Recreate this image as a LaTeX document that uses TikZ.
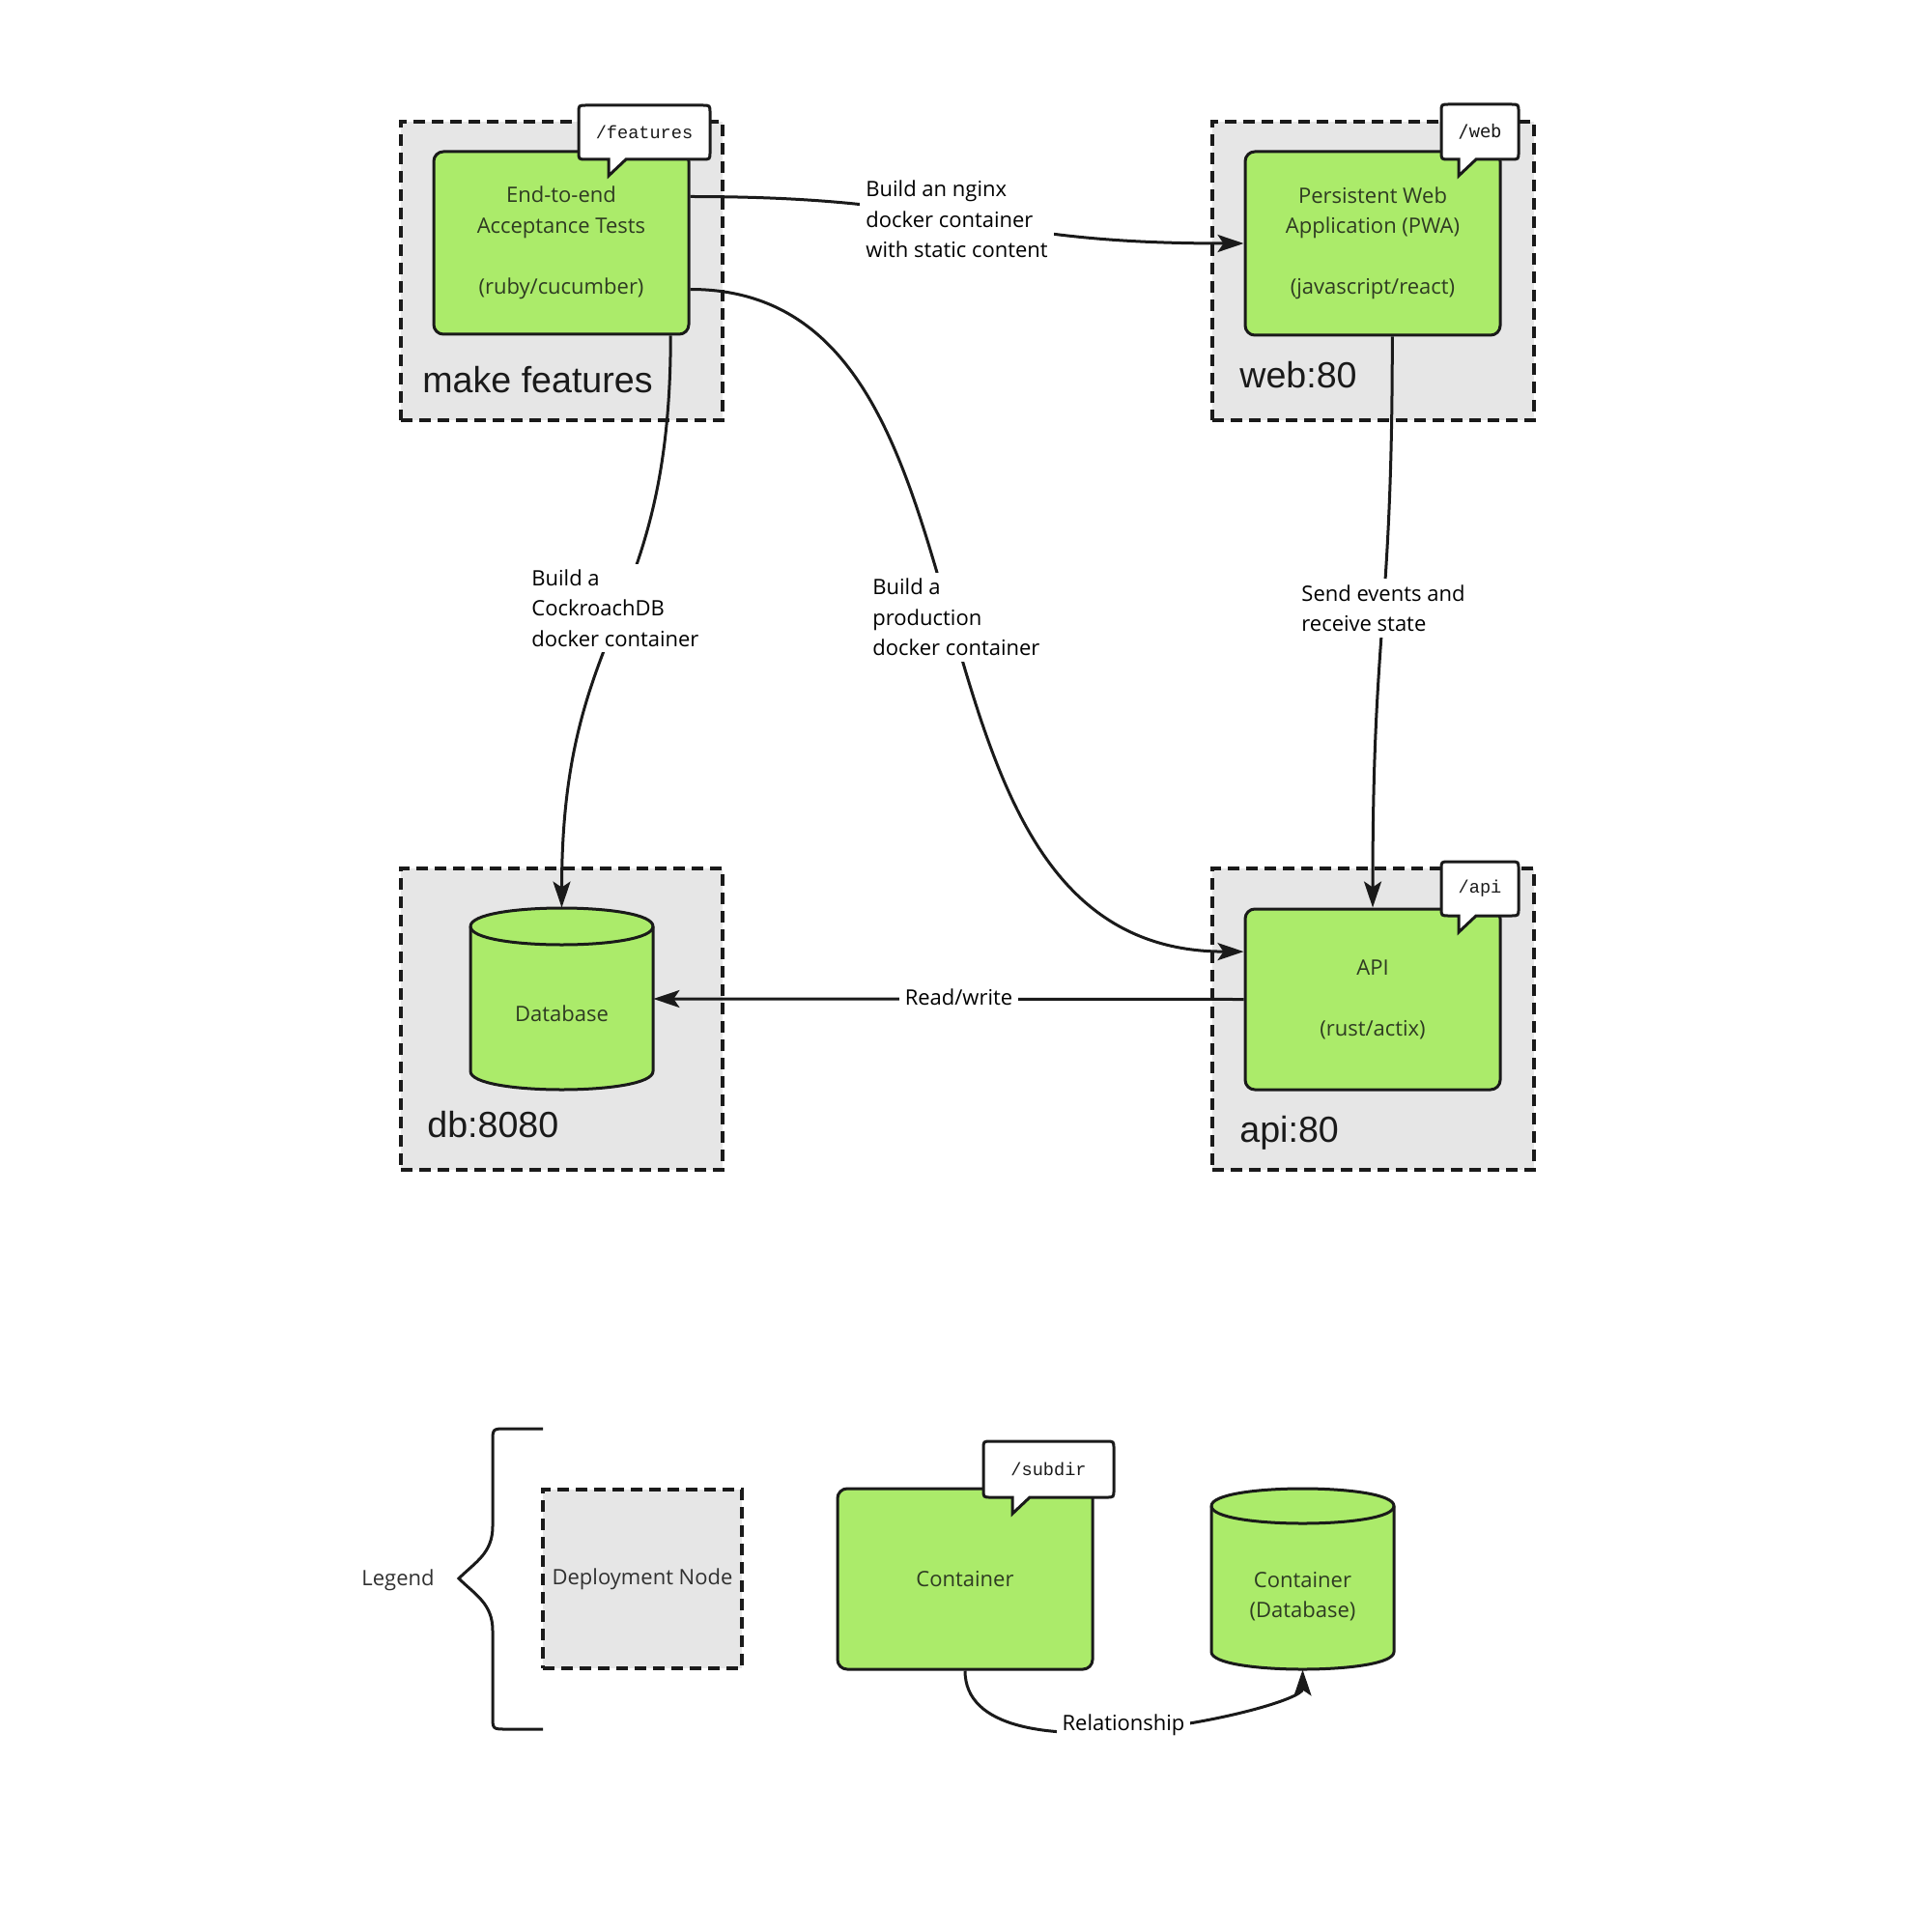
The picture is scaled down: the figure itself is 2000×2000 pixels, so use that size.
\documentclass[tikz,border=0pt]{standalone}
\usepackage{fontspec}
\setmainfont{Open Sans}
\newfontfamily\hostfamily{Liberation Sans}
\newfontfamily\pathfont{Liberation Mono}
\newfontfamily\pathfontsans{DejaVu Sans Mono}
\usetikzlibrary{arrows.meta,calc}

\definecolor{nodegray}{HTML}{E6E6E6}
\definecolor{boxgreen}{HTML}{ABEB6A}
\definecolor{boxtext}{HTML}{2E3B22}
\definecolor{ink}{HTML}{1A1A1A}
\definecolor{softink}{HTML}{303030}

\newcommand\mainsize{\fontsize{11pt}{15.75pt}\selectfont}
\newcommand\hostsize{\hostfamily\fontsize{18.8pt}{22pt}\selectfont}
\newcommand\tagsize{\fontsize{9.3pt}{11pt}\selectfont}

\tikzset{
  deploy/.style={draw=ink, fill=nodegray, dash pattern=on 6pt off 3.5pt,
    line width=1.6pt, inner sep=0pt},
  container/.style={draw=ink, fill=boxgreen, line width=1.5pt, rounded corners=5pt,
    text=boxtext, align=center, font=\mainsize, inner sep=0pt},
  boxlabel/.style={text=boxtext, align=center, font=\mainsize, inner sep=0pt},
  bubble/.style={draw=ink, fill=white, line width=1.5pt},
  tagtext/.style={font=\tagsize, text=ink, inner sep=0pt},
  cyl/.style={draw=ink, fill=boxgreen, line width=1.5pt},
  rel/.style={draw=ink, line width=1.5pt, -{Stealth[length=13.5pt,width=9pt,inset=3pt]}},
  rellabel/.style={fill=white, inner sep=3pt, align=left, font=\mainsize, text=black},
  hostlabel/.style={font=\hostsize, text=ink, inner sep=0pt, anchor=base west},
}

% speech bubble with a tail at the lower left: name, x1, y1, x2, y2, tail x, text
\newcommand\tagbubble[7]{%
  \draw[bubble] ({#2+8},#3) -- ({#4-8},#3) .. controls (#4,#3) .. (#4,{#3+8})
    -- (#4,{#5-8}) .. controls (#4,#5) .. ({#4-8},#5)
    -- ({#6+18},#5) -- (#6,{#5+17}) -- (#6,#5)
    -- ({#2+8},#5) .. controls (#2,#5) .. (#2,{#5-8})
    -- (#2,{#3+8}) .. controls (#2,#3) .. ({#2+8},#3) -- cycle;
  \node[tagtext] (#1) at ({(#2+#4)/2},{(#3+#5)/2}) {#7};}

% database cylinder: x1, x2, top, bottom, half height of the end ellipses
\newcommand\dbshape[5]{%
  \pgfmathsetmacro\cylTop{#3+#5}%
  \pgfmathsetmacro\cylBot{#4-#5}%
  \pgfmathsetmacro\cylK{1.3333*#5}%
  \filldraw[cyl] (#1,\cylTop) -- (#1,\cylBot)
    .. controls (#1,\cylBot+\cylK) and (#2,\cylBot+\cylK) .. (#2,\cylBot)
    -- (#2,\cylTop)
    .. controls (#2,\cylTop-\cylK) and (#1,\cylTop-\cylK) .. (#1,\cylTop) -- cycle;
  \draw[cyl, fill=none] (#1,\cylTop)
    .. controls (#1,\cylTop+\cylK) and (#2,\cylTop+\cylK) .. (#2,\cylTop);}

\begin{document}
\begin{tikzpicture}[x=0.5pt,y=-0.5pt]
\path[use as bounding box] (0,0) rectangle (2000,2000);

% deployment nodes
\node[deploy, minimum width=166.5pt, minimum height=154.5pt] (featHost) at (581.5,280.5) {};
\node[deploy, minimum width=166.5pt, minimum height=154.5pt] (webHost) at (1421.5,280.5) {};
\node[deploy, minimum width=166.5pt, minimum height=156pt] (dbHost) at (581.5,1055) {};
\node[deploy, minimum width=166.5pt, minimum height=156pt] (apiHost) at (1421.5,1055) {};

\node[hostlabel] (featName) at (437,407) {make features};
\node[hostlabel] (webName) at (1283,402) {web:80};
\node[hostlabel] (dbName) at (442,1177) {db:8080};
\node[hostlabel] (apiName) at (1283,1182) {api:80};

% containers
\node[container, minimum width=132pt, minimum height=94.5pt] (feat) at (581,251.5)
  {End-to-end\\Acceptance Tests\\[15.75pt](ruby/cucumber)};
\node[container, minimum width=132pt, minimum height=95pt] (web) at (1421,252)
  {Persistent Web\\Application (PWA)\\[15.75pt](javascript/react)};
\node[container, minimum width=132pt, minimum height=93.5pt] (api) at (1421,1034.5)
  {API\\[15.75pt](rust/actix)};

\dbshape{487}{676}{940}{1128}{19}
\node[inner sep=0pt, minimum width=94.5pt, minimum height=94pt] (db) at (581.5,1034) {};
\node[boxlabel] (dbText) at (581.5,1049) {Database};

\tagbubble{featTag}{599}{109}{735}{165}{630}{\pathfont /features}
\tagbubble{webTag}{1492}{108}{1572}{165}{1510}{\pathfontsans /web}
\tagbubble{apiTag}{1492}{892}{1572}{948}{1510}{\pathfont /api}

% relationships
\draw[rel] ($(feat.north east)!0.25!(feat.south east)$)
  .. controls +(290,0) and +(-288,0) .. (web.west);
\draw[rel] ($(feat.north east)!0.75!(feat.south east)$)
  .. controls +(348,0) and +(-386,0) .. ($(api.north west)!0.24!(api.south west)$);
\draw[rel] ($(feat.south west)!0.924!(feat.south east)$)
  .. controls +(0,297) and +(0,-297) .. (db.north);
\draw[rel] ($(web.south west)!0.576!(web.south east)$)
  .. controls +(0,297) and +(0,-297) .. (api.north);
\draw[rel] (api.west) -- (db.east);

\node[rellabel, anchor=west] (nginxLbl) at (890,227)
  {Build an nginx\\docker container\\with static content};
\node[rellabel, anchor=west] (crdbLbl) at (544,629.5)
  {Build a\\CockroachDB\\docker container};
\node[rellabel, anchor=west] (prodLbl) at (897,639)
  {Build a\\production\\docker container};
\node[rellabel, anchor=west] (eventsLbl) at (1341,629.5)
  {Send events and\\receive state};
\node[rellabel] (rwLbl) at (992.5,1032) {Read/write};

% legend
\node[font=\mainsize, text=softink, inner sep=0pt] (legTitle) at (412,1635.5) {Legend};
\draw[draw=ink, line width=1.5pt] (562,1479) -- (524,1479) .. controls (510,1479) .. (510,1493)
  -- (510,1580) .. controls (510,1608) and (492,1617) .. (475,1634)
  .. controls (492,1651) and (510,1660) .. (510,1688)
  -- (510,1776) .. controls (510,1790) .. (524,1790) -- (562,1790);

\node[deploy, minimum width=103pt, minimum height=92.5pt, font=\mainsize, text=softink]
  (legHost) at (665,1634.5) {Deployment Node};
\node[container, minimum width=132pt, minimum height=93.5pt] (legBox) at (999,1634.5) {Container};
\tagbubble{legTag}{1018}{1492}{1153}{1550}{1048}{\pathfont /subdir}

\dbshape{1254}{1443}{1541}{1728}{18}
\node[inner sep=0pt, minimum width=94.5pt, minimum height=93.5pt] (legDb) at (1348.5,1634.5) {};
\node[boxlabel] (legDbText) at (1348.5,1652.5) {Container\\(Database)};

\draw[rel] (legBox.south) .. controls +(0,120) and +(0,40) .. (legDb.south);
\node[rellabel] (relLbl) at (1163,1786) {Relationship};
\end{tikzpicture}
\end{document}
